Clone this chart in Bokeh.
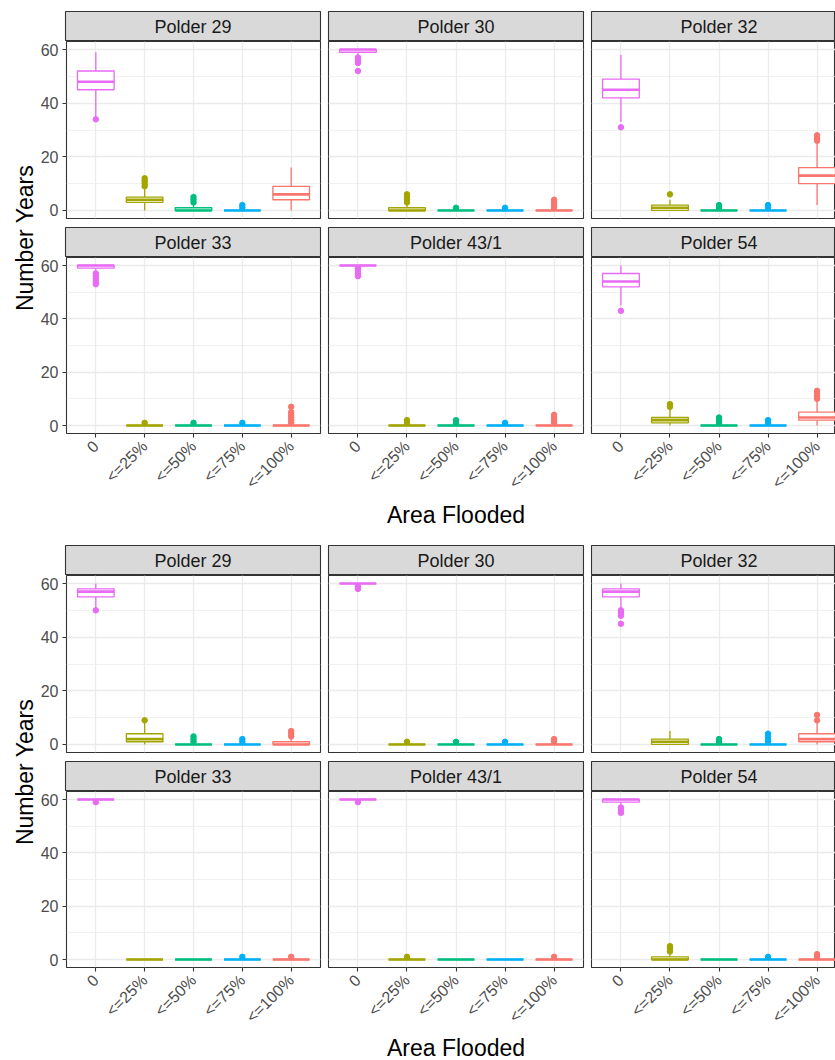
import math
from bokeh.plotting import figure
from bokeh.layouts import row, column
from bokeh.models import Range1d, FixedTicker, ColumnDataSource
from bokeh.core.properties import value
from bokeh.embed import file_html
from bokeh.resources import INLINE

# ---------------- data ----------------
categories = ["0", "<=25%", "<=50%", "<=75%", "<=100%"]
cat_colors = ["#E76BF3", "#A3A500", "#00BF7D", "#00B0F6", "#F8766D"]
polders = ["Polder 29", "Polder 30", "Polder 32", "Polder 33", "Polder 43/1", "Polder 54"]
y_ticks = [0, 20, 40, 60]
y_minor_ticks = [10, 30, 50]
x_title = "Area Flooded"
y_title = "Number Years"

# box statistics per category: [lower whisker, q1, median, q3, upper whisker]
# ---- upper chart ----
a_p29_stats = [[35, 45, 48, 52, 59], [0, 3, 4, 5, 8], [0, 0, 0, 1, 2], [0, 0, 0, 0, 0], [0, 4, 6, 9, 16]]
a_p29_out = [[34], [9, 10, 11, 12], [3, 4, 5], [1, 2], []]
a_p30_stats = [[58, 59, 60, 60, 60], [0, 0, 0, 1, 2], [0, 0, 0, 0, 0], [0, 0, 0, 0, 0], [0, 0, 0, 0, 0]]
a_p30_out = [[52, 55, 56, 57], [3, 4, 5, 6], [1], [1], [1, 2, 3, 4]]
a_p32_stats = [[33, 42, 45, 49, 58], [0, 0, 1, 2, 4], [0, 0, 0, 0, 0], [0, 0, 0, 0, 0], [2, 10, 13, 16, 25]]
a_p32_out = [[31], [6], [1, 2], [1, 2], [26, 27, 28]]
a_p33_stats = [[58, 59, 60, 60, 60], [0, 0, 0, 0, 0], [0, 0, 0, 0, 0], [0, 0, 0, 0, 0], [0, 0, 0, 0, 0]]
a_p33_out = [[53, 54, 55, 56, 57], [1], [1], [1], [1, 2, 3, 4, 5, 7]]
a_p431_stats = [[60, 60, 60, 60, 60], [0, 0, 0, 0, 0], [0, 0, 0, 0, 0], [0, 0, 0, 0, 0], [0, 0, 0, 0, 0]]
a_p431_out = [[56, 57, 58, 59], [1, 2], [1, 2], [1], [1, 2, 3, 4]]
a_p54_stats = [[45, 52, 54, 57, 60], [0, 1, 2, 3, 6], [0, 0, 0, 0, 0], [0, 0, 0, 0, 0], [0, 2, 3, 5, 9]]
a_p54_out = [[43], [7, 8], [1, 2, 3], [1, 2], [10, 11, 12, 13]]

# ---- lower chart ----
b_p29_stats = [[51, 55, 57, 58, 60], [0, 1, 2, 4, 8], [0, 0, 0, 0, 0], [0, 0, 0, 0, 0], [0, 0, 0, 1, 2]]
b_p29_out = [[50], [9], [1, 2, 3], [1, 2], [3, 4, 5]]
b_p30_stats = [[60, 60, 60, 60, 60], [0, 0, 0, 0, 0], [0, 0, 0, 0, 0], [0, 0, 0, 0, 0], [0, 0, 0, 0, 0]]
b_p30_out = [[58, 59], [1], [1], [1], [1, 2]]
b_p32_stats = [[51, 55, 57, 58, 60], [0, 0, 1, 2, 5], [0, 0, 0, 0, 0], [0, 0, 0, 0, 0], [0, 1, 2, 4, 8]]
b_p32_out = [[45, 48, 49, 50], [], [1, 2], [1, 2, 3, 4], [9, 11]]
b_p33_stats = [[60, 60, 60, 60, 60], [0, 0, 0, 0, 0], [0, 0, 0, 0, 0], [0, 0, 0, 0, 0], [0, 0, 0, 0, 0]]
b_p33_out = [[59], [], [], [1], [1]]
b_p431_stats = [[60, 60, 60, 60, 60], [0, 0, 0, 0, 0], [0, 0, 0, 0, 0], [0, 0, 0, 0, 0], [0, 0, 0, 0, 0]]
b_p431_out = [[59], [1], [], [], [1]]
b_p54_stats = [[58, 59, 60, 60, 60], [0, 0, 0, 1, 2], [0, 0, 0, 0, 0], [0, 0, 0, 0, 0], [0, 0, 0, 0, 0]]
b_p54_out = [[55, 56, 57], [3, 4, 5], [], [1], [1, 2]]

a_stats = [a_p29_stats, a_p30_stats, a_p32_stats, a_p33_stats, a_p431_stats, a_p54_stats]
a_outs = [a_p29_out, a_p30_out, a_p32_out, a_p33_out, a_p431_out, a_p54_out]
b_stats = [b_p29_stats, b_p30_stats, b_p32_stats, b_p33_stats, b_p431_stats, b_p54_stats]
b_outs = [b_p29_out, b_p30_out, b_p32_out, b_p33_out, b_p431_out, b_p54_out]

# ---------------- layout constants ----------------
FONT_NAME = "Liberation Sans"
FONT = value(FONT_NAME)
FW, FH, FW_LAST = 255, 177, 244
STRIP_H = 30
YT_W = 37
AX_L = 28
PAD = 4
ROW_GAP = 5
X_BOT = 66
BOX_W = 0.75
GRID_C = "#EBEBEB"
BORDER_C = "#333333"
TICK_FS = "16px"
STRIP_FS = "18px"
TITLE_FS = "23px"

cat_x = [i + 1 for i in range(len(categories))]
X_LO, X_HI = cat_x[0] - 0.6, cat_x[-1] + 0.6
px_per_unit = FW / (X_HI - X_LO)
Y_LO, Y_HI = -3, 63


def col_geom(c):
    fw = FW if c < 2 else FW_LAST
    left = AX_L if c == 0 else PAD
    right = PAD if c < 2 else 0
    return fw, left, right


def new_fig(width, height, xr, yr, left=0, right=0, top=0, bottom=0):
    return figure(width=width, height=height, x_range=xr, y_range=yr,
                  output_backend="svg", toolbar_location=None, tools="",
                  title=None, min_border=0, min_border_left=left,
                  min_border_right=right, min_border_top=top,
                  min_border_bottom=bottom)


def draw_boxes(p, stats, outs):
    src = ColumnDataSource(dict(
        x=cat_x,
        x0=[x - BOX_W / 2 for x in cat_x],
        x1=[x + BOX_W / 2 for x in cat_x],
        lo=[s[0] for s in stats], q1=[s[1] for s in stats],
        med=[s[2] for s in stats], q3=[s[3] for s in stats],
        hi=[s[4] for s in stats], color=cat_colors))
    ox, oy, oc = [], [], []
    for i, o in enumerate(outs):
        for v in o:
            ox.append(cat_x[i])
            oy.append(v)
            oc.append(cat_colors[i])
    p.scatter(ox, oy, size=5.5, color=oc)
    p.segment(x0="x", y0="q3", x1="x", y1="hi", line_color="color", line_width=1.3, source=src)
    p.segment(x0="x", y0="q1", x1="x", y1="lo", line_color="color", line_width=1.3, source=src)
    p.vbar(x="x", width=BOX_W, bottom="q1", top="q3", fill_color="white",
           line_color="color", line_width=1.3, source=src)
    p.segment(x0="x0", y0="med", x1="x1", y1="med", line_color="color", line_width=2.6, source=src)


def build_block(stats_list, outs_list, top_pad, xtitle_h, xtitle_center):
    rows_ = []
    for r in range(2):
        strips, panels = [], []
        for c in range(3):
            k = r * 3 + c
            fw, left, right = col_geom(c)
            xr = Range1d(X_LO, X_LO + fw / px_per_unit)
            stop = top_pad if r == 0 else ROW_GAP
            s = new_fig(left + fw + right, STRIP_H + stop, xr, Range1d(0, 1),
                        left=left, right=right, top=stop, bottom=0)
            s.axis.visible = False
            s.grid.visible = False
            s.background_fill_color = "#D9D9D9"
            s.outline_line_color = BORDER_C
            s.outline_line_width = 1.1
            s.text(x=[cat_x[2]], y=[0.5], text=[polders[k]], text_align="center",
                   text_baseline="middle", text_font=FONT, text_font_size=STRIP_FS,
                   text_color="#1A1A1A")
            strips.append(s)

            bottom = X_BOT if r == 1 else PAD
            p = new_fig(left + fw + right, FH + bottom, xr, Range1d(Y_LO, Y_HI),
                        left=left, right=right, top=0, bottom=bottom)
            p.outline_line_color = BORDER_C
            p.outline_line_width = 1.1
            p.xgrid.ticker = FixedTicker(ticks=cat_x)
            p.ygrid.ticker = FixedTicker(ticks=y_ticks, minor_ticks=y_minor_ticks)
            p.xgrid.grid_line_color = GRID_C
            p.ygrid.grid_line_color = GRID_C
            p.xgrid.grid_line_width = 1.3
            p.ygrid.grid_line_width = 1.3
            p.ygrid.minor_grid_line_color = GRID_C
            p.ygrid.minor_grid_line_width = 0.7

            p.yaxis.ticker = FixedTicker(ticks=y_ticks, minor_ticks=[])
            p.xaxis.ticker = FixedTicker(ticks=cat_x, minor_ticks=[])
            p.xaxis.major_label_overrides = {x: lab for x, lab in zip(cat_x, categories)}
            p.xaxis.major_label_orientation = math.pi / 4
            for ax in (p.xaxis[0], p.yaxis[0]):
                ax.axis_line_color = None
                ax.major_tick_out = 4
                ax.major_tick_in = 0
                ax.minor_tick_out = 0
                ax.minor_tick_in = 0
                ax.major_tick_line_color = BORDER_C
                ax.major_tick_line_width = 1.1
                ax.major_label_text_font = FONT_NAME
                ax.major_label_text_font_size = TICK_FS
                ax.major_label_text_color = "#4D4D4D"
                ax.major_label_standoff = 4
            p.xaxis.major_label_standoff = 6
            if c > 0:
                p.yaxis.visible = False
            if r == 0:
                p.xaxis.visible = False
            draw_boxes(p, stats_list[k], outs_list[k])
            panels.append(p)
        rows_.append(row(*strips))
        rows_.append(row(*panels))

    inner_w = sum(col_geom(c)[1] + col_geom(c)[0] + col_geom(c)[2] for c in range(3))
    xt = new_fig(inner_w, xtitle_h, Range1d(0, inner_w), Range1d(0, xtitle_h))
    xt.axis.visible = False
    xt.grid.visible = False
    xt.outline_line_color = None
    fw1, l1, r1 = col_geom(0)
    fw2, l2, r2 = col_geom(1)
    xt.text(x=[l1 + fw1 + r1 + l2 + fw2 / 2], y=[xtitle_h - xtitle_center], text=[x_title],
            text_align="center", text_baseline="middle", text_font=FONT,
            text_font_size=TITLE_FS, text_color="black")
    rows_.append(xt)

    block_h = top_pad + STRIP_H + FH + PAD + ROW_GAP + STRIP_H + FH + X_BOT + xtitle_h
    yt = new_fig(YT_W, block_h, Range1d(0, YT_W), Range1d(0, block_h))
    yt.axis.visible = False
    yt.grid.visible = False
    yt.outline_line_color = None
    top_frame = top_pad + STRIP_H
    bot_frame = top_frame + FH + PAD + ROW_GAP + STRIP_H + FH
    yt.text(x=[24], y=[block_h - (top_frame + bot_frame) / 2], text=[y_title],
            angle=math.pi / 2, text_align="center", text_baseline="middle",
            text_font=FONT, text_font_size=TITLE_FS, text_color="black")
    return row(yt, column(*rows_))


block_a = build_block(a_stats, a_outs, 11, 44, 14)
block_b = build_block(b_stats, b_outs, 1, 26, 13)
page = column(block_a, block_b)

open("out.html", "w").write(file_html(page, INLINE, title="Area Flooded boxplots"))
